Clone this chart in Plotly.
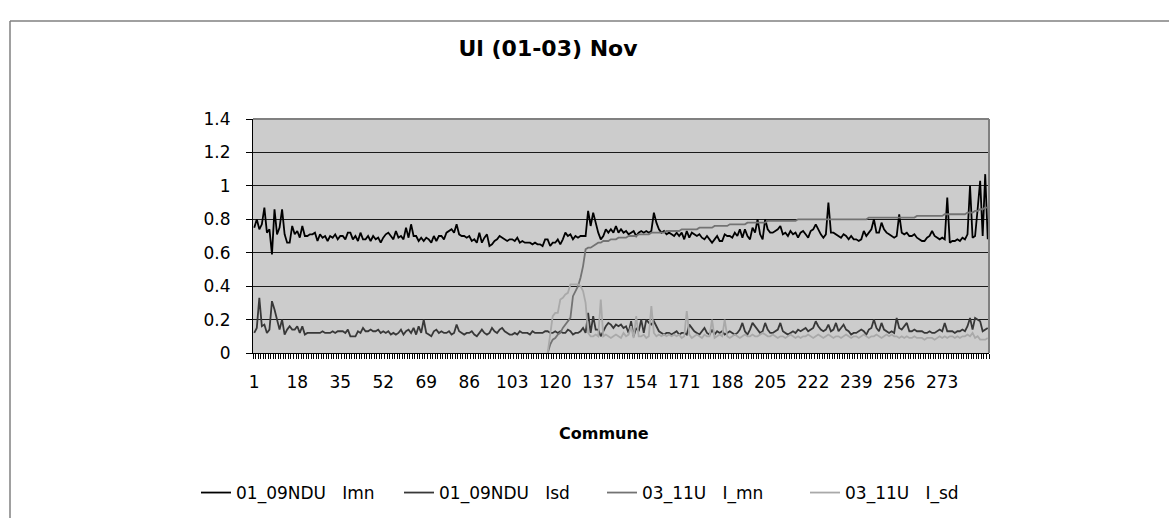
import plotly.graph_objects as go

# ---------------- data ----------------
ndu_mn = [
    0.75, 0.80, 0.74, 0.77, 0.87, 0.72, 0.74, 0.59, 0.86, 0.71, 0.75, 0.86, 0.71, 0.66, 0.66, 0.76, 0.71,
    0.73, 0.69, 0.76, 0.70, 0.70, 0.71, 0.71, 0.72, 0.67, 0.71, 0.69, 0.70, 0.67, 0.70, 0.69, 0.71, 0.68,
    0.70, 0.70, 0.68, 0.72, 0.72, 0.68, 0.70, 0.67, 0.72, 0.68, 0.68, 0.70, 0.67, 0.70, 0.68, 0.69, 0.66,
    0.69, 0.71, 0.72, 0.70, 0.68, 0.73, 0.69, 0.70, 0.68, 0.75, 0.69, 0.77, 0.70, 0.70, 0.67, 0.69, 0.67,
    0.69, 0.68, 0.66, 0.70, 0.67, 0.70, 0.70, 0.68, 0.72, 0.73, 0.74, 0.72, 0.77, 0.71, 0.70, 0.70, 0.69,
    0.70, 0.67, 0.68, 0.66, 0.72, 0.66, 0.69, 0.71, 0.64, 0.65, 0.67, 0.68, 0.70, 0.69, 0.68, 0.67, 0.68,
    0.68, 0.67, 0.69, 0.66, 0.67, 0.66, 0.66, 0.66, 0.65, 0.66, 0.65, 0.65, 0.64, 0.68, 0.68, 0.64, 0.66,
    0.66, 0.68, 0.65, 0.68, 0.72, 0.70, 0.71, 0.68, 0.70, 0.69, 0.70, 0.70, 0.70, 0.85, 0.76, 0.84, 0.78,
    0.72, 0.68, 0.70, 0.74, 0.72, 0.74, 0.72, 0.76, 0.72, 0.74, 0.72, 0.73, 0.71, 0.72, 0.73, 0.70, 0.72,
    0.73, 0.72, 0.73, 0.72, 0.73, 0.84, 0.78, 0.74, 0.72, 0.73, 0.71, 0.72, 0.71, 0.70, 0.72, 0.70, 0.72,
    0.68, 0.73, 0.69, 0.72, 0.71, 0.70, 0.71, 0.69, 0.68, 0.70, 0.68, 0.66, 0.68, 0.70, 0.67, 0.67, 0.71,
    0.70, 0.70, 0.69, 0.72, 0.70, 0.74, 0.69, 0.74, 0.70, 0.68, 0.75, 0.72, 0.80, 0.71, 0.68, 0.80, 0.74,
    0.72, 0.72, 0.73, 0.74, 0.76, 0.71, 0.72, 0.70, 0.73, 0.71, 0.72, 0.69, 0.72, 0.73, 0.71, 0.69, 0.73,
    0.74, 0.77, 0.74, 0.71, 0.69, 0.71, 0.90, 0.72, 0.72, 0.71, 0.70, 0.69, 0.71, 0.70, 0.68, 0.70, 0.68,
    0.68, 0.67, 0.68, 0.73, 0.70, 0.72, 0.74, 0.80, 0.72, 0.72, 0.78, 0.74, 0.72, 0.71, 0.70, 0.69, 0.70,
    0.83, 0.72, 0.71, 0.72, 0.70, 0.70, 0.71, 0.69, 0.68, 0.67, 0.67, 0.69, 0.70, 0.73, 0.70, 0.69, 0.68,
    0.69, 0.68, 0.93, 0.66, 0.67, 0.67, 0.68, 0.67, 0.69, 0.68, 0.71, 1.00, 0.69, 0.70, 0.86, 1.03, 0.70, 1.07, 0.68,
]

ndu_sd = [
    0.12, 0.15, 0.33, 0.16, 0.17, 0.12, 0.14, 0.31, 0.26, 0.19, 0.14, 0.20, 0.11, 0.14, 0.16, 0.14, 0.14,
    0.16, 0.12, 0.16, 0.11, 0.12, 0.12, 0.12, 0.12, 0.12, 0.12, 0.13, 0.12, 0.12, 0.12, 0.13, 0.12, 0.13,
    0.13, 0.13, 0.12, 0.14, 0.10, 0.10, 0.10, 0.13, 0.12, 0.15, 0.13, 0.13, 0.14, 0.13, 0.13, 0.14, 0.12,
    0.13, 0.12, 0.13, 0.11, 0.12, 0.11, 0.12, 0.14, 0.11, 0.13, 0.14, 0.12, 0.15, 0.11, 0.16, 0.12, 0.20,
    0.12, 0.11, 0.10, 0.13, 0.14, 0.12, 0.13, 0.12, 0.12, 0.13, 0.11, 0.12, 0.17, 0.13, 0.12, 0.11, 0.12,
    0.12, 0.13, 0.11, 0.10, 0.12, 0.14, 0.12, 0.11, 0.12, 0.15, 0.13, 0.12, 0.14, 0.15, 0.13, 0.12, 0.11,
    0.11, 0.12, 0.11, 0.13, 0.12, 0.12, 0.12, 0.11, 0.13, 0.12, 0.12, 0.12, 0.12, 0.13, 0.13, 0.12, 0.12,
    0.13, 0.12, 0.13, 0.12, 0.12, 0.14, 0.13, 0.11, 0.12, 0.12, 0.13, 0.15, 0.12, 0.24, 0.12, 0.22, 0.14,
    0.14, 0.10, 0.13, 0.16, 0.18, 0.17, 0.15, 0.17, 0.16, 0.17, 0.15, 0.16, 0.12, 0.19, 0.10, 0.15, 0.13,
    0.20, 0.12, 0.20, 0.18, 0.17, 0.19, 0.16, 0.13, 0.12, 0.11, 0.12, 0.12, 0.11, 0.12, 0.13, 0.11, 0.12,
    0.12, 0.11, 0.17, 0.15, 0.13, 0.12, 0.11, 0.13, 0.15, 0.12, 0.11, 0.14, 0.11, 0.13, 0.12, 0.13, 0.11,
    0.12, 0.13, 0.12, 0.11, 0.12, 0.14, 0.18, 0.13, 0.11, 0.14, 0.18, 0.16, 0.14, 0.12, 0.13, 0.18, 0.14,
    0.12, 0.12, 0.13, 0.14, 0.18, 0.13, 0.12, 0.11, 0.12, 0.13, 0.12, 0.14, 0.13, 0.14, 0.15, 0.13, 0.14,
    0.15, 0.19, 0.16, 0.14, 0.13, 0.14, 0.17, 0.13, 0.14, 0.18, 0.13, 0.15, 0.17, 0.14, 0.13, 0.11, 0.12,
    0.12, 0.13, 0.14, 0.13, 0.11, 0.14, 0.15, 0.20, 0.15, 0.13, 0.18, 0.14, 0.13, 0.12, 0.13, 0.12, 0.21,
    0.15, 0.14, 0.16, 0.18, 0.13, 0.13, 0.14, 0.13, 0.13, 0.13, 0.12, 0.12, 0.13, 0.12, 0.12, 0.13, 0.14,
    0.13, 0.18, 0.13, 0.13, 0.13, 0.12, 0.13, 0.13, 0.14, 0.13, 0.16, 0.21, 0.14, 0.21, 0.20, 0.19, 0.13, 0.14, 0.15,
]

u_start = 117  # first commune with 03_11U values
u_mn = [
    0.00, 0.05, 0.08, 0.09, 0.11, 0.12, 0.15, 0.17, 0.19, 0.21, 0.34, 0.37, 0.40, 0.45, 0.52, 0.62, 0.63, 0.63, 0.64, 0.65,
    0.66, 0.66, 0.67, 0.67, 0.67, 0.68, 0.68, 0.68, 0.69, 0.69, 0.69, 0.69, 0.70, 0.70, 0.70, 0.70, 0.71,
    0.71, 0.71, 0.71, 0.71, 0.72, 0.72, 0.72, 0.72, 0.72, 0.72, 0.73, 0.73, 0.73, 0.73, 0.73, 0.73, 0.74,
    0.74, 0.74, 0.74, 0.74, 0.74, 0.74, 0.75, 0.75, 0.75, 0.75, 0.75, 0.75, 0.76, 0.76, 0.76, 0.76, 0.76,
    0.76, 0.77, 0.77, 0.77, 0.77, 0.77, 0.77, 0.77, 0.78, 0.78, 0.78, 0.78, 0.78, 0.78, 0.78, 0.78, 0.79,
    0.79, 0.79, 0.79, 0.79, 0.79, 0.79, 0.79, 0.79, 0.79, 0.79, 0.79, 0.80, 0.80, 0.80, 0.80, 0.80, 0.80,
    0.80, 0.80, 0.80, 0.80, 0.80, 0.80, 0.80, 0.80, 0.80, 0.80, 0.80, 0.80, 0.80, 0.80, 0.80, 0.80, 0.80,
    0.80, 0.80, 0.80, 0.80, 0.80, 0.81, 0.81, 0.81, 0.81, 0.81, 0.81, 0.81, 0.81, 0.81, 0.81, 0.81, 0.81,
    0.81, 0.81, 0.81, 0.81, 0.81, 0.81, 0.81, 0.82, 0.82, 0.82, 0.82, 0.82, 0.82, 0.82, 0.82, 0.82, 0.82,
    0.82, 0.83, 0.83, 0.83, 0.83, 0.83, 0.83, 0.83, 0.83, 0.83, 0.84, 0.84, 0.84, 0.85, 0.85, 0.86, 0.86, 0.87, 0.87,
]
u_sd = [
    0.00, 0.12, 0.22, 0.24, 0.24, 0.32, 0.33, 0.35, 0.36, 0.41, 0.41, 0.41, 0.41, 0.40, 0.37, 0.30, 0.12, 0.10, 0.10, 0.11,
    0.10, 0.32, 0.10, 0.11, 0.10, 0.09, 0.10, 0.11, 0.10, 0.09, 0.12, 0.10, 0.11, 0.16, 0.09, 0.22, 0.10,
    0.10, 0.11, 0.09, 0.10, 0.28, 0.12, 0.10, 0.11, 0.10, 0.11, 0.10, 0.11, 0.10, 0.11, 0.10, 0.11, 0.09,
    0.10, 0.25, 0.11, 0.09, 0.10, 0.11, 0.10, 0.09, 0.11, 0.10, 0.10, 0.20, 0.09, 0.10, 0.11, 0.10, 0.20,
    0.10, 0.09, 0.10, 0.11, 0.10, 0.09, 0.10, 0.11, 0.10, 0.10, 0.11, 0.10, 0.10, 0.11, 0.12, 0.11, 0.10,
    0.10, 0.11, 0.10, 0.09, 0.10, 0.10, 0.09, 0.10, 0.11, 0.10, 0.09, 0.10, 0.09, 0.10, 0.10, 0.11, 0.10,
    0.09, 0.10, 0.11, 0.10, 0.09, 0.10, 0.11, 0.10, 0.09, 0.10, 0.10, 0.09, 0.10, 0.11, 0.10, 0.09, 0.10,
    0.10, 0.09, 0.10, 0.11, 0.10, 0.09, 0.10, 0.10, 0.11, 0.10, 0.09, 0.10, 0.11, 0.10, 0.11, 0.10, 0.10,
    0.09, 0.10, 0.09, 0.10, 0.09, 0.09, 0.10, 0.09, 0.09, 0.09, 0.08, 0.09, 0.09, 0.09, 0.08, 0.09, 0.10,
    0.09, 0.10, 0.09, 0.10, 0.10, 0.09, 0.10, 0.09, 0.10, 0.10, 0.11, 0.10, 0.12, 0.09, 0.10, 0.08, 0.08, 0.08, 0.09,
]

series_names = ["01_09NDU\u00a0\u00a0 Imn", "01_09NDU\u00a0\u00a0 Isd", "03_11U\u00a0\u00a0 I_mn", "03_11U\u00a0\u00a0 I_sd"]
series_colors = ["#000000", "#383838", "#737373", "#a9a9a9"]
x_tick_vals = [1, 18, 35, 52, 69, 86, 103, 120, 137, 154, 171, 188, 205, 222, 239, 256, 273]
y_tick_vals = [0, 0.2, 0.4, 0.6, 0.8, 1.0, 1.2, 1.4]
y_tick_text = ["0", "0.2", "0.4", "0.6", "0.8", "1", "1.2", "1.4"]
title_text = "Ul (01-03) Nov"
x_title = "Commune"

# ---------------- figure ----------------
n = len(ndu_mn)
x_all = list(range(1, n + 1))
x_u = list(range(u_start, u_start + len(u_mn)))

W, H = 1169, 518
L, R, T, B = 253, 180, 119, 165
pw, ph = W - L - R, H - T - B


def px(xp):
    return (xp - L) / pw


def py(yp):
    return (H - B - yp) / ph


FONT = "DejaVu Sans"

fig = go.Figure()
traces = [(x_all, ndu_mn), (x_all, ndu_sd), (x_u, u_mn), (x_u, u_sd)]
for (xs, ys), name, col in zip(traces, series_names, series_colors):
    fig.add_trace(go.Scatter(x=xs, y=ys, mode="lines", name=name,
                             line=dict(color=col, width=1.8)))

fig.update_layout(
    width=W, height=H,
    margin=dict(l=L, r=R, t=T, b=B, autoexpand=False),
    paper_bgcolor="white",
    plot_bgcolor="#cccccc",
    font=dict(family=FONT, color="black", size=17),
    title=dict(text="<b>" + title_text + "</b>", x=548 / W, xanchor="center",
               y=1 - 48 / H, yanchor="middle", font=dict(family=FONT, size=22, color="black")),
    showlegend=True,
    legend=dict(orientation="h", x=px(196), xanchor="left", y=py(493), yanchor="middle",
                font=dict(family=FONT, size=17, color="black"), bgcolor="rgba(0,0,0,0)",
                itemwidth=30, entrywidth=158, entrywidthmode="pixels", tracegroupgap=0),
    xaxis=dict(range=[0.5, n + 0.5], tickmode="array", tickvals=x_tick_vals,
               ticktext=[str(v) for v in x_tick_vals], ticks="", showgrid=False, zeroline=False,
               showline=True, linecolor="black", linewidth=1,
               ticklabelstandoff=14, tickfont=dict(family=FONT, size=17, color="black"),
               minor=dict(tickmode="linear", tick0=0.5, dtick=1, ticks="outside", ticklen=5,
                          tickcolor="black", tickwidth=1, showgrid=False)),
    yaxis=dict(range=[0, 1.4], tickmode="array", tickvals=y_tick_vals, ticktext=y_tick_text,
               ticks="outside", ticklen=6, tickcolor="black", showgrid=True, gridcolor="#1a1a1a",
               gridwidth=1, zeroline=False, showline=True, linecolor="black", linewidth=1,
               ticklabelstandoff=12, tickfont=dict(family=FONT, size=17, color="black")),
    annotations=[dict(text="<b>" + x_title + "</b>", x=px(604), y=py(433), xref="paper", yref="paper",
                      showarrow=False, xanchor="center", yanchor="middle",
                      font=dict(family=FONT, size=16, color="black"))],
    shapes=[
        # plot-area border (top and right)
        dict(type="line", xref="paper", yref="paper", x0=0, x1=1, y0=1, y1=1,
             line=dict(color="#808080", width=2), layer="above"),
        dict(type="line", xref="paper", yref="paper", x0=1, x1=1, y0=0, y1=1,
             line=dict(color="#808080", width=2), layer="above"),
        # chart-area border
        dict(type="line", xref="paper", yref="paper", x0=px(10), x1=px(W + 5), y0=py(21), y1=py(21),
             line=dict(color="#808080", width=1.5)),
        dict(type="line", xref="paper", yref="paper", x0=px(10), x1=px(10), y0=py(21), y1=py(H + 5),
             line=dict(color="#808080", width=1.5)),
    ],
)

fig.write_html("out.html", config={"displayModeBar": False},
               post_script="document.body.style.margin='0';document.body.style.overflow='hidden';")
